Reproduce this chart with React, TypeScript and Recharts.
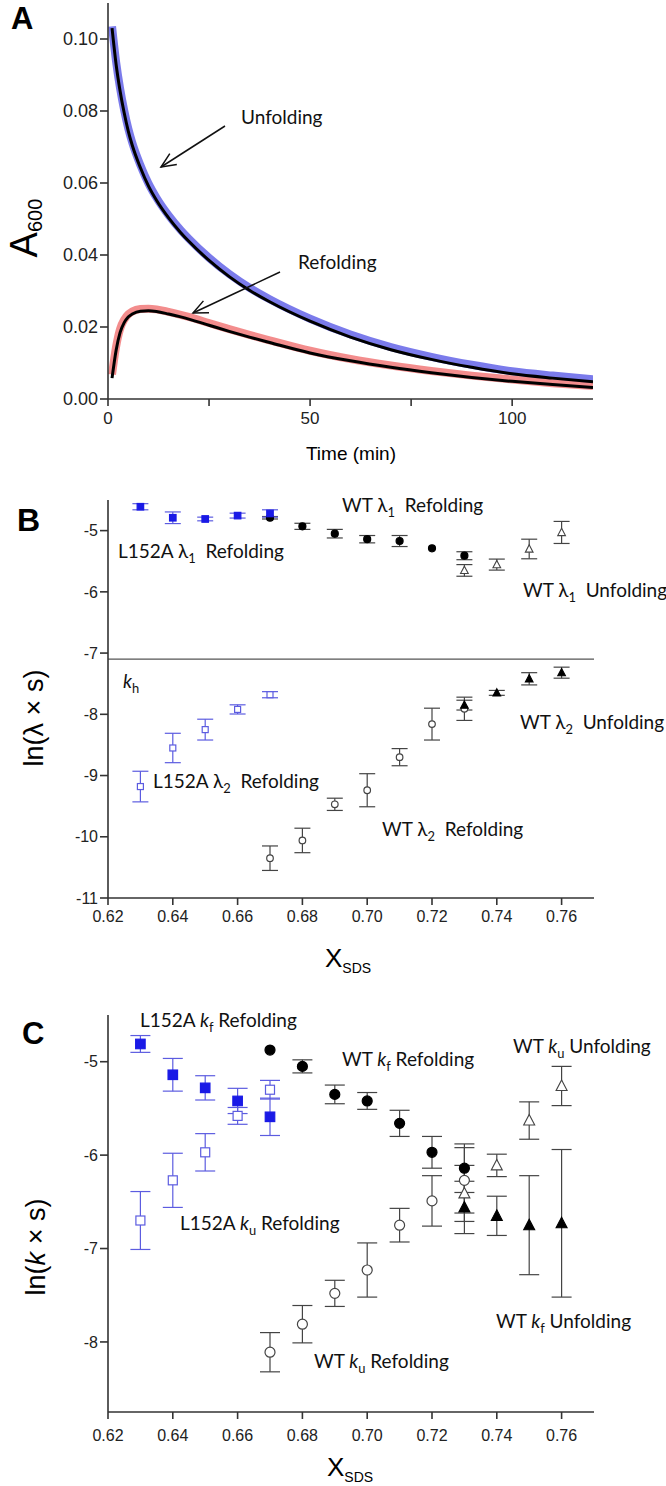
import React from 'react';
import { LineChart, Line, XAxis, YAxis, ScatterChart, Scatter, ErrorBar, ReferenceLine } from 'recharts';

// ---------- Panel A data ----------
const timeMin = [1, 2, 3, 4, 5, 6, 8, 10, 12, 15, 18, 20, 25, 30, 35, 40, 50, 60, 70, 80, 90, 100, 110, 120];
const unfoldData = [0.1035, 0.0937, 0.0862, 0.0802, 0.0752, 0.0712, 0.065, 0.0599, 0.0559, 0.051, 0.0469, 0.0445, 0.0392, 0.0347, 0.0309, 0.0277, 0.0223, 0.0179, 0.0144, 0.0117, 0.0095, 0.0077, 0.0065, 0.0055];
const unfoldFit = [0.103, 0.093, 0.0855, 0.0795, 0.0745, 0.0705, 0.0643, 0.0592, 0.0552, 0.0503, 0.0462, 0.0438, 0.0385, 0.034, 0.0302, 0.027, 0.0216, 0.0172, 0.0137, 0.011, 0.0088, 0.007, 0.0058, 0.0048];
const refoldData = [0.0068, 0.0145, 0.0195, 0.022, 0.0235, 0.0243, 0.025, 0.0251, 0.0249, 0.0242, 0.0234, 0.0228, 0.0211, 0.0194, 0.0178, 0.0163, 0.0134, 0.0111, 0.0093, 0.0078, 0.0065, 0.0054, 0.0044, 0.0036];
const refoldFit = [0.0058, 0.0135, 0.0185, 0.0212, 0.0228, 0.0236, 0.0244, 0.0245, 0.0243, 0.0236, 0.0228, 0.0222, 0.0205, 0.0188, 0.0172, 0.0157, 0.0128, 0.0106, 0.0088, 0.0073, 0.0060, 0.0049, 0.0040, 0.0032];
const xTicksA = [0, 25, 50, 75, 100];
const yTicksA = [0, 0.02, 0.04, 0.06, 0.08, 0.1];

// ---------- Panel B data ----------
const xL152 = [0.63, 0.64, 0.65, 0.66, 0.67];
const xWTref = [0.67, 0.68, 0.69, 0.70, 0.71, 0.72, 0.73];
const xWTunf = [0.73, 0.74, 0.75, 0.76];

const bL152L1 = [-4.61, -4.79, -4.81, -4.755, -4.72];
const bL152L1e = [0.05, 0.095, 0.03, 0.04, 0.06];
const bWTL1ref = [-4.79, -4.93, -5.05, -5.14, -5.17, -5.29, -5.41];
const bWTL1refe = [0.02, 0.05, 0.07, 0.06, 0.09, 0.0, 0.065];
const bWTL1unf = [-5.65, -5.555, -5.30, -5.03];
const bWTL1unfe = [0.095, 0.09, 0.16, 0.18];
const bWTL2unf = [-7.85, -7.65, -7.42, -7.32];
const bWTL2unfe = [0.08, 0.04, 0.1, 0.09];
const bL152L2 = [-9.18, -8.55, -8.25, -7.92, -7.68];
const bL152L2e = [0.25, 0.24, 0.17, 0.075, 0.05];
const bWTL2ref = [-10.35, -10.06, -9.47, -9.24, -8.70, -8.16, -7.91];
const bWTL2refe = [0.2, 0.2, 0.1, 0.27, 0.14, 0.26, 0.19];
const kh = -7.1;
const yTicksB = [-11, -10, -9, -8, -7, -6, -5];

// ---------- Panel C data ----------
const cL152kf = [-4.81, -5.14, -5.28, -5.42, -5.59];
const cL152kfe = [0.09, 0.175, 0.13, 0.135, 0.2];
const cL152ku = [-6.70, -6.27, -5.97, -5.58, -5.30];
const cL152kue = [0.31, 0.29, 0.2, 0.09, 0.1];
const cWTkfref = [-4.875, -5.05, -5.35, -5.42, -5.66, -5.97, -6.14];
const cWTkfrefe = [0, 0.07, 0.1, 0.09, 0.14, 0.17, 0.26];
const cWTkuref = [-8.11, -7.81, -7.48, -7.23, -6.75, -6.49, -6.27];
const cWTkurefe = [0.21, 0.2, 0.14, 0.29, 0.18, 0.27, 0.35];
const cWTkuunf = [-6.41, -6.11, -5.63, -5.26];
const cWTkuunfe = [0.3, 0.12, 0.2, 0.21];
const cWTkfunf = [-6.56, -6.65, -6.75, -6.73];
const cWTkfunfe = [0.28, 0.21, 0.53, 0.79];
const yTicksC = [-8, -7, -6, -5];

const xTicksX = [0.62, 0.64, 0.66, 0.68, 0.70, 0.72, 0.74, 0.76];

// ---------- helpers ----------
const mk = (xs: number[], ys: number[], es: number[]) => xs.map((x, i) => ({ x, y: ys[i], e: es[i] }));
const tableA = timeMin.map((t, i) => ({ t, ud: unfoldData[i], uf: unfoldFit[i], rd: refoldData[i], rf: refoldFit[i] }));

const BLUE = '#1a1ae6';
const LBLUE = '#5c5ce0';
const GREY = '#444';

const sq = (s: number, fill: string, stroke: string) => (p: any) => (
  <rect x={p.cx - s / 2} y={p.cy - s / 2} width={s} height={s} fill={fill} stroke={stroke} strokeWidth={1.2} />
);
const circ = (r: number, fill: string, stroke: string) => (p: any) => (
  <circle cx={p.cx} cy={p.cy} r={r} fill={fill} stroke={stroke} strokeWidth={1.2} />
);
const tri = (s: number, fill: string, stroke: string) => (p: any) => (
  <path d={`M${p.cx},${p.cy - s * 0.6}L${p.cx + s * 0.55},${p.cy + s * 0.45}L${p.cx - s * 0.55},${p.cy + s * 0.45}Z`} fill={fill} stroke={stroke} strokeWidth={1.1} />
);

const tickFont = { fill: '#222', fontSize: 16, fontFamily: '"Liberation Sans", Arial, sans-serif' };
const AX = '#333';

type Part = { t: string; sub?: boolean; it?: boolean };
const LBL_FONT = 'Lato, "Open Sans", sans-serif';
const Lab = ({ x, y, parts, size = 19 }: { x: number; y: number; parts: Part[]; size?: number }) => {
  let shift = 0;
  return (
    <text x={x} y={y} fontSize={size} fontFamily={LBL_FONT} fill="#111" style={{ whiteSpace: 'pre' }}>
      {parts.map((p, i) => {
        const target = p.sub ? size * 0.28 : 0;
        const dy = target - shift;
        shift = target;
        return (
          <tspan key={i} dy={dy} fontSize={p.sub ? size * 0.68 : size} fontStyle={p.it ? 'italic' : 'normal'}>
            {p.t}
          </tspan>
        );
      })}
    </text>
  );
};

const Arrow = ({ x1, y1, x2, y2 }: { x1: number; y1: number; x2: number; y2: number }) => {
  const ang = Math.atan2(y1 - y2, x1 - x2);
  const L = 16, a = 0.42;
  const w1 = [x2 + L * Math.cos(ang + a), y2 + L * Math.sin(ang + a)];
  const w2 = [x2 + L * Math.cos(ang - a), y2 + L * Math.sin(ang - a)];
  return (
    <g stroke="#111" strokeWidth={1.5} fill="none">
      <line x1={x1} y1={y1} x2={x2} y2={y2} />
      <polyline points={`${w1[0]},${w1[1]} ${x2},${y2} ${w2[0]},${w2[1]}`} />
    </g>
  );
};

const abs: React.CSSProperties = { position: 'absolute', left: 0, top: 0 };
const W = 666, H = 1486;

const XAxisSDS = (tm: number) => (
  <XAxis dataKey="x" type="number" domain={[0.62, 0.77]} ticks={xTicksX} allowDataOverflow
    tickFormatter={(v: number) => v.toFixed(2)} tick={tickFont} stroke={AX} strokeWidth={1.6}
    tickSize={7} tickMargin={tm} height={30} />
);

export default function App() {
  return (
    <div style={{ position: 'absolute', left: 0, top: 0, width: W, height: H, background: '#fff', overflow: 'hidden' }}>
      {/* Panel A */}
      <div style={abs}>
        <LineChart width={W} height={H} data={tableA} margin={{ top: 3, left: 48, right: 73, bottom: 1057 }}>
          <XAxis dataKey="t" type="number" domain={[0, 120]} ticks={xTicksA} allowDataOverflow
            tickFormatter={(v: number) => (v % 50 === 0 ? String(v) : '')}
            tick={{ ...tickFont, fontSize: 17 }} stroke={AX} strokeWidth={1.6} tickSize={7} tickMargin={6} height={30} />
          <YAxis type="number" domain={[0, 0.11]} ticks={yTicksA} allowDataOverflow width={60}
            tickFormatter={(v: number) => v.toFixed(2)} tick={{ ...tickFont, fontSize: 18 }} stroke={AX} strokeWidth={1.6} tickSize={8} tickMargin={2} />
          <Line dataKey="ud" type="monotone" stroke="#5a5ae6" strokeOpacity={0.8} strokeWidth={8} dot={false} isAnimationActive={false} />
          <Line dataKey="rd" type="monotone" stroke="#f07070" strokeOpacity={0.8} strokeWidth={8} dot={false} isAnimationActive={false} />
          <Line dataKey="uf" type="monotone" stroke="#000" strokeWidth={3} dot={false} isAnimationActive={false} />
          <Line dataKey="rf" type="monotone" stroke="#000" strokeWidth={3} dot={false} isAnimationActive={false} />
        </LineChart>
      </div>

      {/* Panel B */}
      <div style={abs}>
        <ScatterChart width={W} height={H} margin={{ top: 500, left: 48, right: 72, bottom: 558 }}>
          {XAxisSDS(6)}
          <YAxis dataKey="y" type="number" domain={[-11, -4.5]} ticks={yTicksB} allowDataOverflow width={60}
            tick={tickFont} stroke={AX} strokeWidth={1.6} tickSize={8} tickMargin={2} />
          <ReferenceLine y={kh} stroke="#555" strokeWidth={1.2} />
          <Scatter data={mk(xL152, bL152L2, bL152L2e)} shape={sq(6, '#fff', LBLUE)} isAnimationActive={false}>
            <ErrorBar dataKey="e" direction="y" width={8} stroke={LBLUE} strokeWidth={1.2} />
          </Scatter>
          <Scatter data={mk(xWTref, bWTL2ref, bWTL2refe)} shape={circ(3.3, '#fff', GREY)} isAnimationActive={false}>
            <ErrorBar dataKey="e" direction="y" width={8} stroke={GREY} strokeWidth={1.2} />
          </Scatter>
          <Scatter data={mk(xWTunf, bWTL2unf, bWTL2unfe)} shape={tri(7, '#000', '#000')} isAnimationActive={false}>
            <ErrorBar dataKey="e" direction="y" width={8} stroke={GREY} strokeWidth={1.2} />
          </Scatter>
          <Scatter data={mk(xWTunf, bWTL1unf, bWTL1unfe)} shape={tri(7, '#fff', GREY)} isAnimationActive={false}>
            <ErrorBar dataKey="e" direction="y" width={8} stroke={GREY} strokeWidth={1.2} />
          </Scatter>
          <Scatter data={mk(xWTref, bWTL1ref, bWTL1refe)} shape={circ(3.5, '#000', '#000')} isAnimationActive={false}>
            <ErrorBar dataKey="e" direction="y" width={8} stroke={GREY} strokeWidth={1.2} />
          </Scatter>
          <Scatter data={mk(xL152, bL152L1, bL152L1e)} shape={sq(6.5, BLUE, BLUE)} isAnimationActive={false}>
            <ErrorBar dataKey="e" direction="y" width={8} stroke={LBLUE} strokeWidth={1.2} />
          </Scatter>
        </ScatterChart>
      </div>

      {/* Panel C */}
      <div style={abs}>
        <ScatterChart width={W} height={H} margin={{ top: 1015, left: 48, right: 72, bottom: 44 }}>
          {XAxisSDS(11)}
          <YAxis dataKey="y" type="number" domain={[-8.75, -4.5]} ticks={yTicksC} allowDataOverflow width={60}
            tick={tickFont} stroke={AX} strokeWidth={1.6} tickSize={8} tickMargin={2} />
          <Scatter data={mk(xL152, cL152ku, cL152kue)} shape={sq(9, '#fff', LBLUE)} isAnimationActive={false}>
            <ErrorBar dataKey="e" direction="y" width={10} stroke={LBLUE} strokeWidth={1.2} />
          </Scatter>
          <Scatter data={mk(xL152, cL152kf, cL152kfe)} shape={sq(9.5, BLUE, BLUE)} isAnimationActive={false}>
            <ErrorBar dataKey="e" direction="y" width={10} stroke={LBLUE} strokeWidth={1.2} />
          </Scatter>
          <Scatter data={mk(xWTunf, cWTkfunf, cWTkfunfe)} shape={tri(10, '#000', '#000')} isAnimationActive={false}>
            <ErrorBar dataKey="e" direction="y" width={10} stroke={GREY} strokeWidth={1.2} />
          </Scatter>
          <Scatter data={mk(xWTunf, cWTkuunf, cWTkuunfe)} shape={tri(10, '#fff', GREY)} isAnimationActive={false}>
            <ErrorBar dataKey="e" direction="y" width={10} stroke={GREY} strokeWidth={1.2} />
          </Scatter>
          <Scatter data={mk(xWTref, cWTkuref, cWTkurefe)} shape={circ(5, '#fff', GREY)} isAnimationActive={false}>
            <ErrorBar dataKey="e" direction="y" width={10} stroke={GREY} strokeWidth={1.2} />
          </Scatter>
          <Scatter data={mk(xWTref, cWTkfref, cWTkfrefe)} shape={circ(5, '#000', '#000')} isAnimationActive={false}>
            <ErrorBar dataKey="e" direction="y" width={10} stroke={GREY} strokeWidth={1.2} />
          </Scatter>
        </ScatterChart>
      </div>

      {/* Annotations */}
      <svg width={W} height={H} style={{ ...abs, pointerEvents: 'none' }}>
        <g fontFamily='"Liberation Sans", Arial, sans-serif' fill="#000">
          <text x={11} y={29} fontSize={31} fontWeight="bold">A</text>
          <text x={17} y={531} fontSize={32} fontWeight="bold">B</text>
          <text x={22} y={1044} fontSize={31} fontWeight="bold">C</text>

          <text transform="rotate(-90 37 228)" x={37} y={228} textAnchor="middle" fontSize={38}>
            A<tspan fontSize={20} dy={5}>600</tspan>
          </text>
          <text x={351} y={460} textAnchor="middle" fontSize={19}>Time (min)</text>

          <text transform="rotate(-90 43 718)" x={43} y={718} textAnchor="middle" fontSize={27}>ln(λ × s)</text>
          <text transform="rotate(-90 45 1247)" x={45} y={1247} textAnchor="middle" fontSize={27}>
            ln(<tspan fontStyle="italic">k</tspan> × s)
          </text>

          <text x={325} y={967} fontSize={26}>X<tspan fontSize={14} dy={6}>SDS</tspan></text>
          <text x={327} y={1476} fontSize={26}>X<tspan fontSize={14} dy={6}>SDS</tspan></text>
        </g>

        <Arrow x1={225} y1={126} x2={161} y2={167} />
        <Arrow x1={280} y1={272} x2={193} y2={313} />
        <Lab x={241} y={124} parts={[{ t: 'Unfolding' }]} />
        <Lab x={298} y={269} parts={[{ t: 'Refolding' }]} />

        <Lab x={342} y={512} parts={[{ t: 'WT λ' }, { t: '1', sub: true }, { t: '  Refolding' }]} />
        <Lab x={118} y={558} parts={[{ t: 'L152A λ' }, { t: '1', sub: true }, { t: '  Refolding' }]} />
        <Lab x={523} y={597} parts={[{ t: 'WT λ' }, { t: '1', sub: true }, { t: '  Unfolding' }]} />
        <Lab x={123} y={688} parts={[{ t: 'k', it: true }, { t: 'h', sub: true }]} />
        <Lab x={520} y={729} parts={[{ t: 'WT λ' }, { t: '2', sub: true }, { t: '  Unfolding' }]} />
        <Lab x={153} y={788} parts={[{ t: 'L152A λ' }, { t: '2', sub: true }, { t: '  Refolding' }]} />
        <Lab x={382} y={836} parts={[{ t: 'WT λ' }, { t: '2', sub: true }, { t: '  Refolding' }]} />

        <Lab x={140} y={1027} parts={[{ t: 'L152A ' }, { t: 'k', it: true }, { t: 'f', sub: true }, { t: ' Refolding' }]} />
        <Lab x={342} y={1066} parts={[{ t: 'WT ' }, { t: 'k', it: true }, { t: 'f', sub: true }, { t: ' Refolding' }]} />
        <Lab x={513} y={1053} parts={[{ t: 'WT ' }, { t: 'k', it: true }, { t: 'u', sub: true }, { t: ' Unfolding' }]} />
        <Lab x={180} y={1230} parts={[{ t: 'L152A ' }, { t: 'k', it: true }, { t: 'u', sub: true }, { t: ' Refolding' }]} />
        <Lab x={314} y={1368} parts={[{ t: 'WT ' }, { t: 'k', it: true }, { t: 'u', sub: true }, { t: ' Refolding' }]} />
        <Lab x={496} y={1328} parts={[{ t: 'WT ' }, { t: 'k', it: true }, { t: 'f', sub: true }, { t: ' Unfolding' }]} />
      </svg>
    </div>
  );
}
